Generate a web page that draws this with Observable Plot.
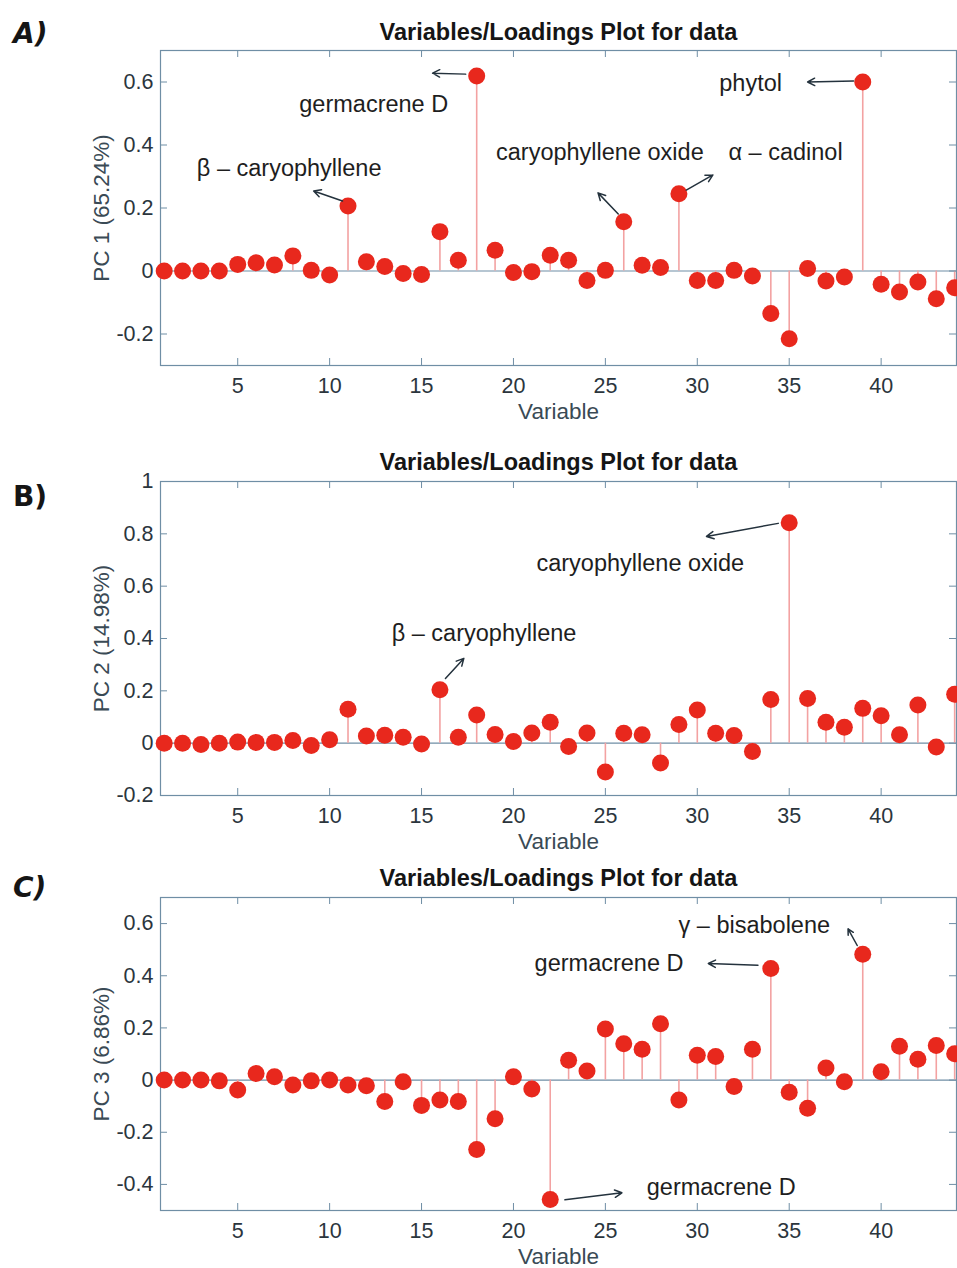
<!DOCTYPE html>
<html><head><meta charset="utf-8">
<script src="https://cdn.jsdelivr.net/npm/d3@7"></script>
<script src="https://cdn.jsdelivr.net/npm/@observablehq/plot@0.6"></script>
<style>
body{margin:0;background:#fff;}
#wrap{position:relative;width:957px;height:1268px;overflow:hidden;font-family:"Liberation Sans",Arial,sans-serif;background:#fff;}
.panel{position:absolute;left:0;}
.title{position:absolute;left:160px;width:797px;text-align:center;font-weight:bold;font-size:23.5px;line-height:26px;color:#151515;}
.letter{position:absolute;left:13px;font-family:"DejaVu Sans",sans-serif;font-weight:bold;font-size:28px;line-height:32px;color:#151515;}
</style></head><body><div id="wrap"></div>
<script>
// ---- data ----
const variables = [1,2,3,4,5,6,7,8,9,10,11,12,13,14,15,16,17,18,19,20,21,22,23,24,25,26,27,28,29,30,31,32,33,34,35,36,37,38,39,40,41,42,43,44];
const pc1 = [0,0,0,0,0.021,0.026,0.019,0.048,0.002,-0.013,0.206,0.029,0.014,-0.008,-0.011,0.125,0.034,0.619,0.066,-0.005,-0.002,0.05,0.034,-0.03,0.002,0.156,0.018,0.011,0.245,-0.03,-0.03,0.002,-0.016,-0.135,-0.215,0.008,-0.032,-0.019,0.6,-0.042,-0.067,-0.035,-0.088,-0.053];
const pc2 = [0,0,-0.005,0,0.004,0.003,0.003,0.01,-0.009,0.013,0.13,0.027,0.03,0.023,-0.003,0.204,0.023,0.108,0.033,0.006,0.039,0.08,-0.013,0.039,-0.11,0.038,0.032,-0.076,0.071,0.127,0.038,0.029,-0.032,0.167,0.842,0.171,0.08,0.061,0.133,0.105,0.032,0.146,-0.015,0.187];
const pc3 = [0,0,0,-0.003,-0.038,0.025,0.013,-0.019,-0.003,0,-0.019,-0.022,-0.082,-0.006,-0.097,-0.076,-0.082,-0.266,-0.148,0.013,-0.034,-0.458,0.076,0.035,0.196,0.139,0.118,0.216,-0.076,0.095,0.09,-0.025,0.118,0.428,-0.047,-0.108,0.046,-0.006,0.482,0.032,0.13,0.08,0.133,0.101];
const xTickValues = [5,10,15,20,25,30,35,40];
const yTicksA = [-0.2,0,0.2,0.4,0.6];
const yTicksB = [-0.2,0,0.2,0.4,0.6,0.8,1];
const yTicksC = [-0.4,-0.2,0,0.2,0.4,0.6];
const titleText = "Variables/Loadings Plot for data";
const xLabel = "Variable";
const yLabels = ["PC 1 (65.24%)","PC 2 (14.98%)","PC 3 (6.86%)"];
const panelLetters = ["A)","B)","C)"];

const notesA = [
  {text:"germacrene D", x:12.4, y:0.53},
  {text:"β – caryophyllene", x:7.8, y:0.327},
  {text:"caryophyllene oxide", x:24.7, y:0.375},
  {text:"α – cadinol", x:34.8, y:0.375},
  {text:"phytol", x:32.9, y:0.594}
];
const arrowsA = [
  {x1:17.4,y1:0.625,x2:15.6,y2:0.628},
  {x1:10.7,y1:0.222,x2:9.13,y2:0.254},
  {x1:25.7,y1:0.181,x2:24.6,y2:0.248},
  {x1:29.4,y1:0.257,x2:30.85,y2:0.305},
  {x1:38.5,y1:0.603,x2:36.0,y2:0.6}
];
const notesB = [
  {text:"β – caryophyllene", x:18.4, y:0.42},
  {text:"caryophyllene oxide", x:26.9, y:0.687}
];
const arrowsB = [
  {x1:16.3,y1:0.247,x2:17.3,y2:0.324},
  {x1:34.4,y1:0.84,x2:30.5,y2:0.79}
];
const notesC = [
  {text:"γ – bisabolene", x:33.1, y:0.593},
  {text:"germacrene D", x:25.2, y:0.447},
  {text:"germacrene D", x:31.3, y:-0.41}
];
const arrowsC = [
  {x1:38.7,y1:0.516,x2:38.2,y2:0.58},
  {x1:33.3,y1:0.44,x2:30.6,y2:0.447},
  {x1:22.8,y1:-0.459,x2:25.9,y2:-0.432}
];

// ---- styling ----
const axisColor = "#6f8ea5";
const stemColor = "#f3a2a2";
const dotColor = "#e8281d";
const tickText = "#2b353d";
const W = 957, ML = 160, MR = 1;
const PW = W - ML - MR;
const fmt = d => String(+d.toFixed(1));

function panel(values, yDomain, yTicks, yLabel, notes, arrows, mt, ph, mb) {
  const data = variables.map((v, i) => ({v, val: values[i]}));
  return Plot.plot({
    width: W, height: mt + ph + mb,
    marginLeft: ML, marginRight: MR, marginTop: mt, marginBottom: mb,
    x: {domain: [0.8, 44.1]},
    y: {domain: yDomain},
    style: {fontFamily: '"Liberation Sans", Arial, sans-serif', fontSize: "21.5px", color: tickText, background: "white", overflow: "visible"},
    marks: [
      Plot.ruleY([0], {stroke: axisColor, strokeWidth: 1.2}),
      Plot.ruleX(data, {x: "v", y1: 0, y2: "val", stroke: stemColor, strokeWidth: 1.6}),
      Plot.frame({stroke: axisColor, strokeWidth: 1.2}),
      Plot.tickX(xTickValues, {x: d => d, insetTop: ph - 7, stroke: axisColor}),
      Plot.tickX(xTickValues, {x: d => d, insetBottom: ph - 7, stroke: axisColor}),
      Plot.tickY(yTicks, {y: d => d, insetLeft: PW - 7, stroke: axisColor}),
      Plot.tickY(yTicks, {y: d => d, insetRight: PW - 7, stroke: axisColor}),
      Plot.axisX({ticks: xTickValues, tickSize: 0, tickPadding: 12, label: null, fill: tickText}),
      Plot.axisY({ticks: yTicks, tickSize: 0, tickPadding: 7, label: null, tickFormat: fmt, fill: tickText}),
      Plot.dot(data, {x: "v", y: "val", r: 8.5, fill: dotColor}),
      Plot.arrow(arrows, {x1: "x1", y1: "y1", x2: "x2", y2: "y2", stroke: "#24323d", strokeWidth: 1.5, headLength: 8, headAngle: 55}),
      Plot.text(notes, {x: "x", y: "y", text: "text", fill: "#1e1e1e", fontSize: 23.5}),
      Plot.text([xLabel], {frameAnchor: "bottom", dy: 46, lineAnchor: "middle", textAnchor: "middle", fill: "#3a4a55", fontSize: 22.5}),
      Plot.text([yLabel], {frameAnchor: "left", dx: -59, rotate: -90, lineAnchor: "middle", textAnchor: "middle", fill: "#3a4a55", fontSize: 22.5})
    ]
  });
}

const wrap = document.getElementById("wrap");
const cfg = [
  {top: 0,   vals: pc1, dom: [-0.3, 0.7], ticks: yTicksA, notes: notesA, arrows: arrowsA, mt: 50, ph: 315, mb: 65, titleY: 19, letterY: 18, italic: true},
  {top: 440, vals: pc2, dom: [-0.2, 1],   ticks: yTicksB, notes: notesB, arrows: arrowsB, mt: 41, ph: 314, mb: 65, titleY: 449, letterY: 481, italic: false},
  {top: 860, vals: pc3, dom: [-0.5, 0.7], ticks: yTicksC, notes: notesC, arrows: arrowsC, mt: 37, ph: 313, mb: 58, titleY: 865, letterY: 872, italic: true}
];
cfg.forEach((c, i) => {
  const div = document.createElement("div");
  div.className = "panel";
  div.style.top = c.top + "px";
  div.appendChild(panel(c.vals, c.dom, c.ticks, yLabels[i], c.notes, c.arrows, c.mt, c.ph, c.mb));
  wrap.appendChild(div);
  const t = document.createElement("div");
  t.className = "title";
  t.style.top = c.titleY + "px";
  t.textContent = titleText;
  wrap.appendChild(t);
  const l = document.createElement("div");
  l.className = "letter";
  l.style.top = c.letterY + "px";
  l.style.fontStyle = c.italic ? "italic" : "normal";
  l.textContent = panelLetters[i];
  wrap.appendChild(l);
});
</script>
</body></html>
